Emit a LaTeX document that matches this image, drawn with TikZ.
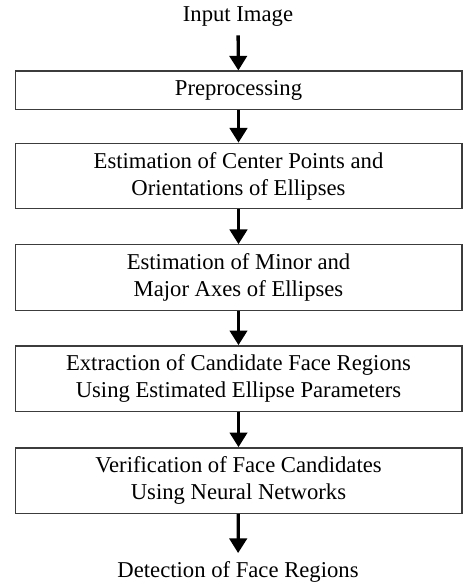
\documentclass[tikz,border=0pt]{standalone}
\usepackage{fontspec}
\setmainfont{Liberation Serif}
\usetikzlibrary{arrows.meta}

\tikzset{every picture/.style={line width=0.75pt}}
\tikzset{
  stagebox/.style={draw={rgb, 255:red, 60; green, 60; blue, 60 }, line width=1pt, minimum width=335pt, align=center, inner sep=0pt},
  termtext/.style={inner sep=6pt},
  flowarrow/.style={line width=2.5pt, -{Triangle[width=13pt,length=11pt]}}
}

\begin{document}
\begin{tikzpicture}[x=0.75pt,y=0.75pt,yscale=-1,xscale=1]
	\useasboundingbox (0,0) rectangle (463,584);
	\fontsize{17}{20.25}\selectfont

	% Text Node
	\node [termtext] (input) at (238,17) {Input Image};
	%Shape: Rectangle
	\node [stagebox, minimum height=29pt] (prep) at (238.5,90.5) {Preprocessing};
	%Shape: Rectangle
	\node [stagebox, minimum height=49pt] (center) at (238.5,176) {Estimation of Center Points and\\Orientations of Ellipses};
	%Shape: Rectangle
	\node [stagebox, minimum height=49pt] (axes) at (238.5,277.5) {Estimation of Minor and\\Major Axes of Ellipses};
	%Shape: Rectangle
	\node [stagebox, minimum height=49pt] (extract) at (238.5,378.5) {Extraction of Candidate Face Regions\\Using Estimated Ellipse Parameters};
	%Shape: Rectangle
	\node [stagebox, minimum height=49pt] (verify) at (238.5,480.5) {Verification of Face Candidates\\Using Neural Networks};
	% Text Node
	\node [termtext] (detect) at (238,572) {Detection of Face Regions};

	%Straight Lines
	\draw [flowarrow] (input) -- (prep);
	\draw [flowarrow] (prep) -- (center);
	\draw [flowarrow] (center) -- (axes);
	\draw [flowarrow] (axes) -- (extract);
	\draw [flowarrow] (extract) -- (verify);
	\draw [flowarrow] (verify) -- (detect);

\end{tikzpicture}
\end{document}
